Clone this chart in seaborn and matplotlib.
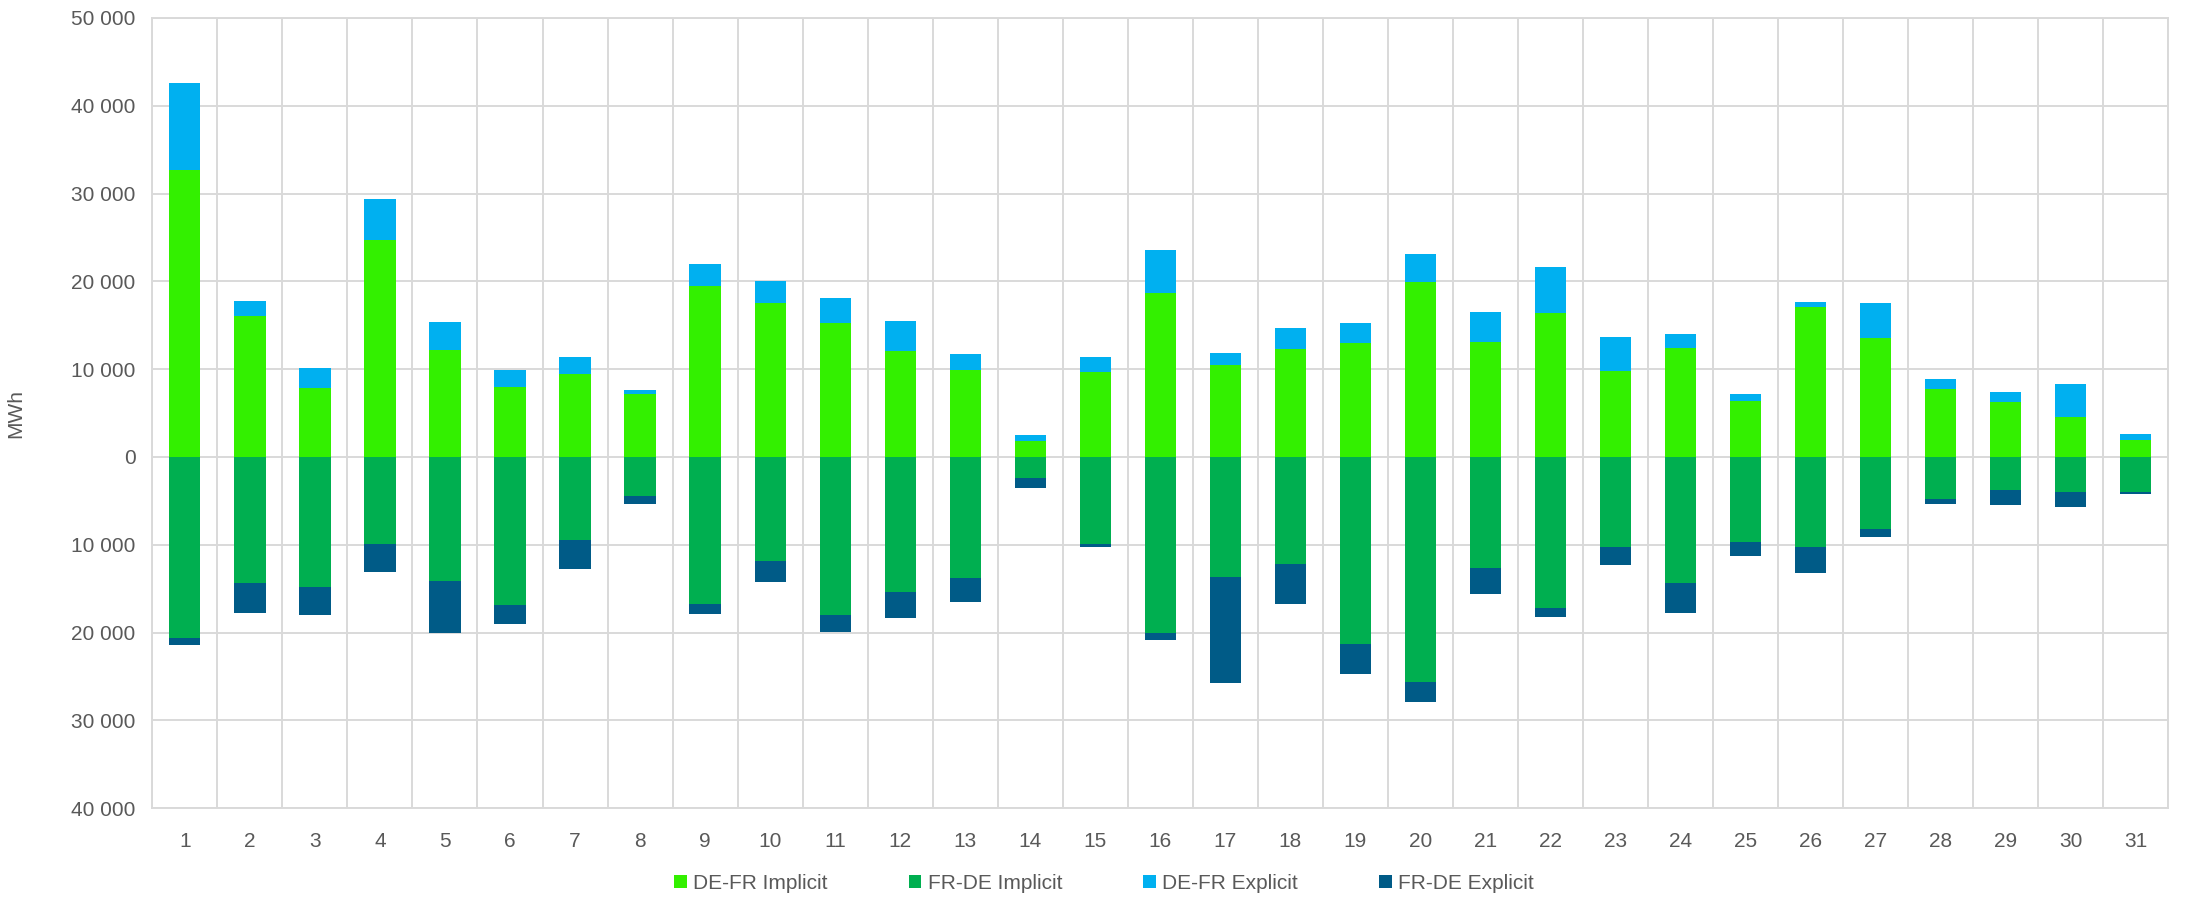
import numpy as np
import pandas as pd
import seaborn as sns
import matplotlib.pyplot as plt
from matplotlib.ticker import FuncFormatter, MultipleLocator

days = [str(d) for d in range(1, 32)]

# DE-FR flows (positive side)
de_fr_implicit = [32700, 16000, 7900, 24700, 12200, 8000, 9400, 7200, 19450, 17500,
                  15250, 12100, 9850, 1800, 9650, 18700, 10450, 12250, 12950, 19950,
                  13150, 16450, 9750, 12400, 6400, 17100, 13500, 7750, 6250, 4550, 1900]
de_fr_explicit = [9900, 1800, 2250, 4700, 3150, 1950, 2000, 400, 2550, 2500,
                  2850, 3400, 1900, 750, 1700, 4850, 1400, 2400, 2300, 3150,
                  3350, 5150, 3950, 1600, 750, 600, 4000, 1150, 1150, 3800, 700]

# FR-DE flows (shown below zero)
fr_de_implicit = [20650, 14400, 14850, 9950, 14150, 16850, 9400, 4500, 16700, 11800,
                  17950, 15350, 13800, 2450, 9950, 20050, 13700, 12150, 21300, 25650,
                  12650, 17150, 10300, 14300, 9700, 10300, 8250, 4750, 3800, 4000, 3950]
fr_de_explicit = [800, 3400, 3100, 3200, 5850, 2200, 3400, 900, 1150, 2450,
                  2000, 2950, 2700, 1100, 350, 850, 12000, 4650, 3400, 2300,
                  3000, 1100, 1950, 3450, 1550, 2900, 850, 550, 1650, 1700, 300]

colors = {
    "DE-FR Implicit": "#33F000",
    "FR-DE Implicit": "#00AF50",
    "DE-FR Explicit": "#00B0F0",
    "FR-DE Explicit": "#005B87",
}

df = pd.DataFrame({
    "day": days,
    "de_fr_impl": de_fr_implicit,
    "de_fr_expl": de_fr_explicit,
    "fr_de_impl": fr_de_implicit,
    "fr_de_expl": fr_de_explicit,
})
df["de_fr_total"] = df["de_fr_impl"] + df["de_fr_expl"]
df["fr_de_total"] = -(df["fr_de_impl"] + df["fr_de_expl"])
df["fr_de_impl_neg"] = -df["fr_de_impl"]

sns.set_theme(style="white")
plt.rcParams["font.family"] = ["Liberation Sans", "DejaVu Sans"]
fs = 15

fig, ax = plt.subplots(figsize=(22.08, 8.97), dpi=100)
fig.subplots_adjust(left=0.069, right=0.982, top=0.980, bottom=0.099)

bw = 0.48
# stack by overdrawing: totals first, then the implicit part on top
sns.barplot(data=df, x="day", y="de_fr_total", color=colors["DE-FR Explicit"], saturation=1,
            width=bw, errorbar=None, ax=ax, label="DE-FR Explicit", zorder=3, linewidth=0)
sns.barplot(data=df, x="day", y="de_fr_impl", color=colors["DE-FR Implicit"], saturation=1,
            width=bw, errorbar=None, ax=ax, label="DE-FR Implicit", zorder=3, linewidth=0)
sns.barplot(data=df, x="day", y="fr_de_total", color=colors["FR-DE Explicit"], saturation=1,
            width=bw, errorbar=None, ax=ax, label="FR-DE Explicit", zorder=3, linewidth=0)
sns.barplot(data=df, x="day", y="fr_de_impl_neg", color=colors["FR-DE Implicit"], saturation=1,
            width=bw, errorbar=None, ax=ax, label="FR-DE Implicit", zorder=3, linewidth=0)

grid_c = "#D9D9D9"
ax.set_ylim(-40000, 50000)
ax.set_xlim(-0.5, len(days) - 0.5)
ax.yaxis.set_major_locator(MultipleLocator(10000))
ax.yaxis.set_major_formatter(FuncFormatter(lambda v, p: f"{abs(int(v)):,}".replace(",", " ")))
ax.set_xticks(range(len(days)))
ax.set_xticklabels(days)
ax.set_xticks(np.arange(-0.5, len(days), 1), minor=True)
ax.grid(axis="y", which="major", color=grid_c, linewidth=1.4, zorder=0)
ax.grid(axis="x", which="minor", color=grid_c, linewidth=1.4, zorder=0)
ax.grid(axis="x", which="major", visible=False)
ax.set_axisbelow(True)
ax.tick_params(axis="both", which="both", length=0, labelsize=fs, colors="#595959")
ax.tick_params(axis="x", pad=17)
ax.tick_params(axis="y", pad=12)
for s in ax.spines.values():
    s.set_color(grid_c)
    s.set_linewidth(1.4)

ax.set_xlabel("")
ax.set_ylabel("MWh", fontsize=fs, color="#595959")
ax.yaxis.set_label_coords(-0.063, 0.5)

handles, labels = ax.get_legend_handles_labels()
lookup = dict(zip(labels, handles))
order = ["DE-FR Implicit", "FR-DE Implicit", "DE-FR Explicit", "FR-DE Explicit"]
ax.legend([lookup[k] for k in order], order, loc="center", bbox_to_anchor=(0.5, 0.015),
          bbox_transform=fig.transFigure, ncol=4, frameon=False, fontsize=fs,
          handlelength=0.6, handleheight=0.6, handletextpad=0.3, columnspacing=3.9,
          labelcolor="#595959")

fig.savefig("out.png", dpi=100)
